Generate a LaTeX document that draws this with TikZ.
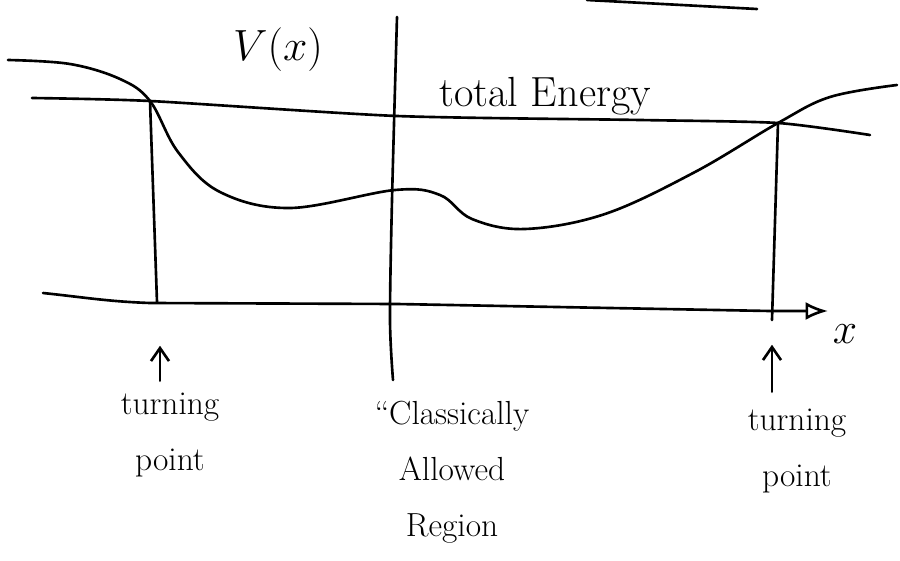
\documentclass[tikz,border=0pt]{standalone}
\usepackage{tikz}
\usetikzlibrary{arrows.meta,positioning}

\begin{document}
\begin{tikzpicture}[
  x=0.02cm,y=-0.02cm,
  font=\fontsize{19}{32}\selectfont,
  pen/.style={line width=1.5pt,line cap=round,line join=round},
  lbl/.style={align=center,inner sep=1pt},
  big/.style={lbl,font=\fontsize{24}{28}\selectfont},
  up/.style={pen,-{Straight Barb[length=2.6mm,width=3.6mm]}},
  axis/.style={pen,-{Latex[open,length=4.5mm,width=3.6mm]}}]

\useasboundingbox (0,0) rectangle (900,561);

% turning points, where V(x) meets the total energy
\coordinate (tl) at (150,101);
\coordinate (tr) at (778,123);
\coordinate (bl) at (157,302);
\coordinate (br) at (772,320);
\coordinate (xend) at (828,311);

\node[big] (vx) at (278,50) {$V(x)$};
\node[big] (etot) at (545,96) {total Energy};
\node[big] (xl) at (845,334) {$x$};
\node[lbl] (ltp) at (170,435) {turning\\point};
\node[lbl] (rtp) at (797,451) {turning\\point};
\node[lbl] (car) at (452,472) {``Classically\\Allowed\\Region};

\draw[pen] (587,0) -- (757,9);
\draw[pen] plot[smooth] coordinates {(397,17) (392,200) (390,320) (393,380)};
\draw[pen] plot[smooth,tension=0.4] coordinates {(32,98) (tl) (397,116) (640,120) (tr) (870,135)};
\draw[pen] plot[smooth,tension=0.6] coordinates {(8,60) (70,64) (120,79) (tl)
  (178,152) (220,192) (290,208) (395,190) (440,195) (472,219) (525,229)
  (605,214) (695,172) (tr) (830,97) (897,85)};
\draw[axis] (43,293) to[out=-6,in=178] (150,303) -- (397,304) -- (770,311) -- (xend);
\draw[pen] (tl) -- (bl);
\draw[pen] (tr) -- (br);
\draw[up,shorten <=2mm] (ltp.north -| bl) ++(3,0) -- ++(0,-45);
\draw[up,shorten <=3mm] (rtp.north -| br) -- ++(0,-62);
\end{tikzpicture}
\end{document}
